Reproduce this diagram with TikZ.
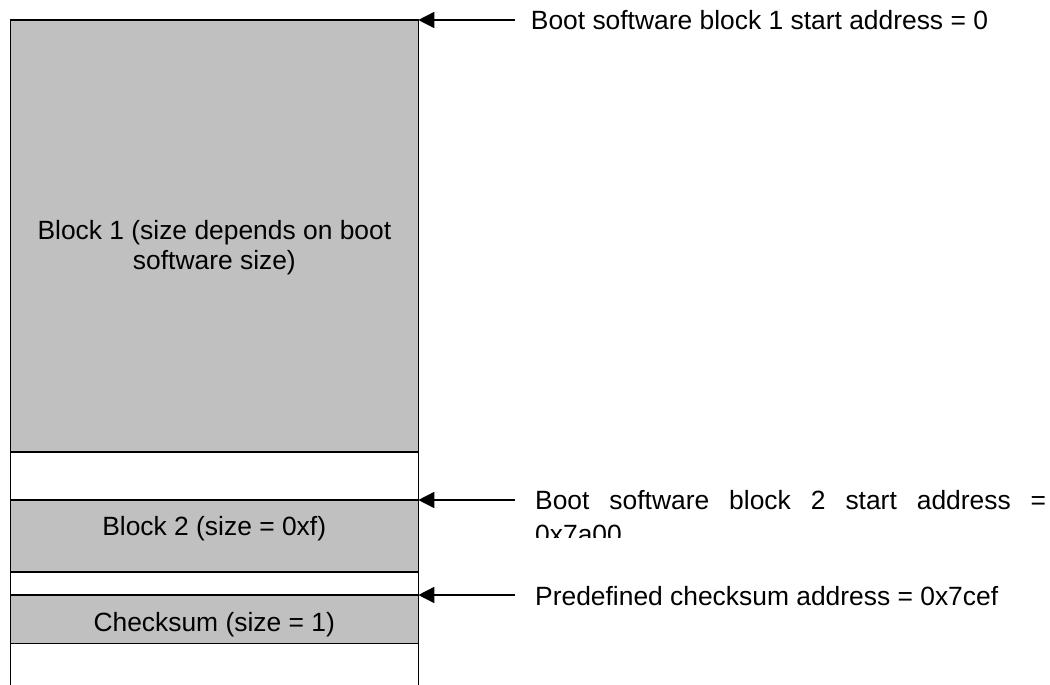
\documentclass[tikz,border=0pt]{standalone}
\usepackage{fontspec}
\setmainfont{Liberation Sans}
\usetikzlibrary{arrows.meta}
\definecolor{blockgray}{HTML}{C0C0C0}
\begin{document}
\begin{tikzpicture}[x=1pt,y=-1pt,
  blockbox/.style={draw=black,line width=1.5pt,fill=blockgray,inner sep=0pt,outer sep=0pt,anchor=north west,minimum width=407.8pt},
  lbl/.style={inner sep=0pt,anchor=base,align=center,font=\fontsize{26.4}{30}\selectfont},
  addr/.style={inner sep=0pt,anchor=base west,align=left,font=\fontsize{26.4}{34.3}\selectfont},
  ptr/.style={line width=1.5pt,-{Triangle[length=16pt,width=16pt]}},
  wall/.style={line width=1.5pt},
]
\useasboundingbox (0,0) rectangle (1050,685);
% memory blocks
\node[blockbox,minimum height=432pt] (b1) at (10.5,20) {};
\node[blockbox,minimum height=72pt] (b2) at (10.5,500) {};
\node[blockbox,minimum height=48.3pt] (cs) at (10.5,595) {};
% outer walls
\coordinate (bot) at (0,685);
\draw[wall] (b1.north west) -- (b1.north west |- bot);
\draw[wall] (b1.north east) -- (b1.north east |- bot);
% block texts (base anchor = baseline of the last line)
\node[lbl] (t1) at (214.4,269) {Block 1 (size depends on boot\\software size)};
\node[lbl] (t2) at (214.2,535) {Block 2 (size = 0xf)};
\node[lbl] (t3) at (214.2,631) {Checksum (size = 1)};
% address labels
\node[addr] (l1) at (530.7,29.3) {Boot software block 1 start address = 0};
\begin{scope}
  \clip (520,470) rectangle (1050,537.5);
  \node[addr] (l2) at (535,543.6) {\makebox[511pt][s]{Boot software block 2 start address =}\\0x7a00};
\end{scope}
\node[addr] (l3) at (535,605) {Predefined checksum address = 0x7cef};
% pointers
\coordinate (p1) at (515,20);
\coordinate (p2) at (515,500);
\coordinate (p3) at (515,595);
\draw[ptr] (p1) -- (b1.north east);
\draw[ptr] (p2) -- (b2.north east);
\draw[ptr] (p3) -- (cs.north east);
\end{tikzpicture}
\end{document}
